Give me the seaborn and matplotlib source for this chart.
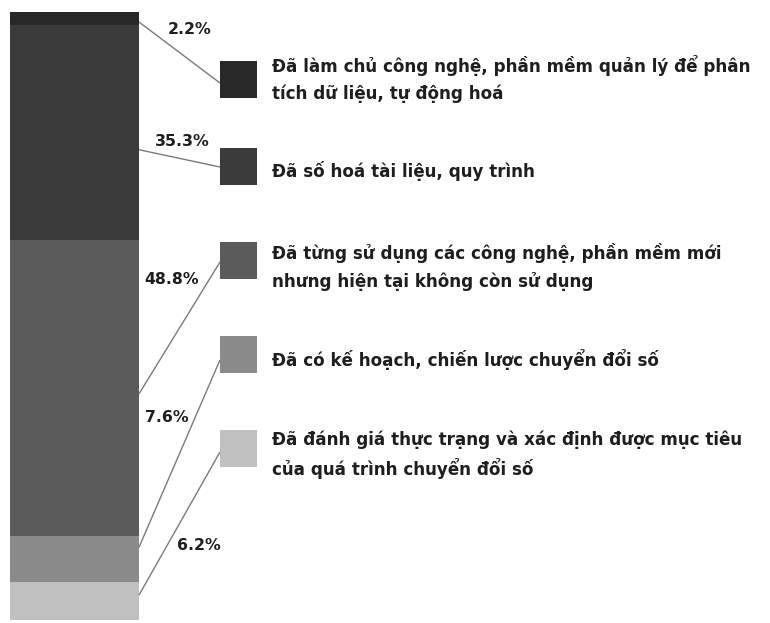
import matplotlib
matplotlib.use("Agg")
import matplotlib.pyplot as plt
import seaborn as sns
import numpy as np

# Survey shares, listed from the top of the stack to the bottom
categories = [
    "Đã làm chủ công nghệ, phần mềm quản lý để phân\ntích dữ liệu, tự động hoá",
    "Đã số hoá tài liệu, quy trình",
    "Đã từng sử dụng các công nghệ, phần mềm mới\nnhưng hiện tại không còn sử dụng",
    "Đã có kế hoạch, chiến lược chuyển đổi số",
    "Đã đánh giá thực trạng và xác định được mục tiêu\ncủa quá trình chuyển đổi số",
]
shares = [2.2, 35.3, 48.8, 7.6, 6.2]
value_labels = ["2.2%", "35.3%", "48.8%", "7.6%", "6.2%"]
colors = ["#282828", "#3b3b3b", "#5b5b5b", "#8a8a8a", "#c0c0c0"]

sns.set_theme(style="white")
plt.rcParams["font.family"] = ["DejaVu Sans"]

W, H = 770, 623
fig = plt.figure(figsize=(W / 100, H / 100), dpi=100)
fig.patch.set_facecolor("white")

# Stacked single bar
bar_top, bar_bot, bar_left, bar_right = 12, 620, 10, 139
ax = fig.add_axes([bar_left / W, (H - bar_bot) / H,
                   (bar_right - bar_left) / W, (bar_bot - bar_top) / H])
total = sum(shares)
# cumulative tops measured from the bottom of the bar
rev = shares[::-1]
rev_colors = colors[::-1]
cum = np.cumsum(rev)
for top, col in sorted(zip(cum, rev_colors), key=lambda t: -t[0]):
    sns.barplot(x=["bar"], y=[top], color=col, saturation=1, width=1,
                linewidth=0, ax=ax)
ax.set_xlim(-0.5, 0.5)
ax.set_ylim(0, total)
ax.axis("off")

# Overlay in pixel coordinates for leaders, labels and legend
ov = fig.add_axes([0, 0, 1, 1])
ov.set_xlim(0, W)
ov.set_ylim(H, 0)
ov.axis("off")
ov.patch.set_alpha(0)

def to_overlay(x, y):
    disp = ax.transData.transform((x, y))
    return ov.transData.inverted().transform(disp)

# where each leader leaves its segment (fraction of the segment, from its top)
anchor_frac = [0.75, 0.58, 0.52, 0.24, 0.34]
tops = [total - sum(shares[:i]) for i in range(len(shares))]
anchors = [t - s * f for t, s, f in zip(tops, shares, anchor_frac)]

sq_x, sq_size = 220, 37
sq_centers = [79, 166, 260, 354, 448]
line_end_y = [83, 167, 262, 360, 452]
label_pos = [(190, 30), (182, 142), (172, 280), (167, 418), (199, 545)]
text_dy = [0, 5, 7, 5, 7]

for i in range(len(shares)):
    x0, y0 = to_overlay(0.5, anchors[i])
    ov.plot([x0, sq_x], [y0, line_end_y[i]], color="#7a7a7a", lw=1.0,
            solid_capstyle="butt", zorder=1)
    ov.add_patch(plt.Rectangle((sq_x, sq_centers[i] - sq_size / 2), sq_size, sq_size,
                               facecolor=colors[i], edgecolor="none", zorder=2))
    ov.text(272, sq_centers[i] + text_dy[i], categories[i], ha="left", va="center",
            fontsize=12.1, fontweight="bold", color="#1e1e1e", linespacing=1.55)
    lx, ly = label_pos[i]
    ov.text(lx, ly, value_labels[i], ha="center", va="center", fontsize=11.3,
            fontweight="bold", color="#1e1e1e")

fig.savefig("out.png", dpi=100, facecolor="white")
